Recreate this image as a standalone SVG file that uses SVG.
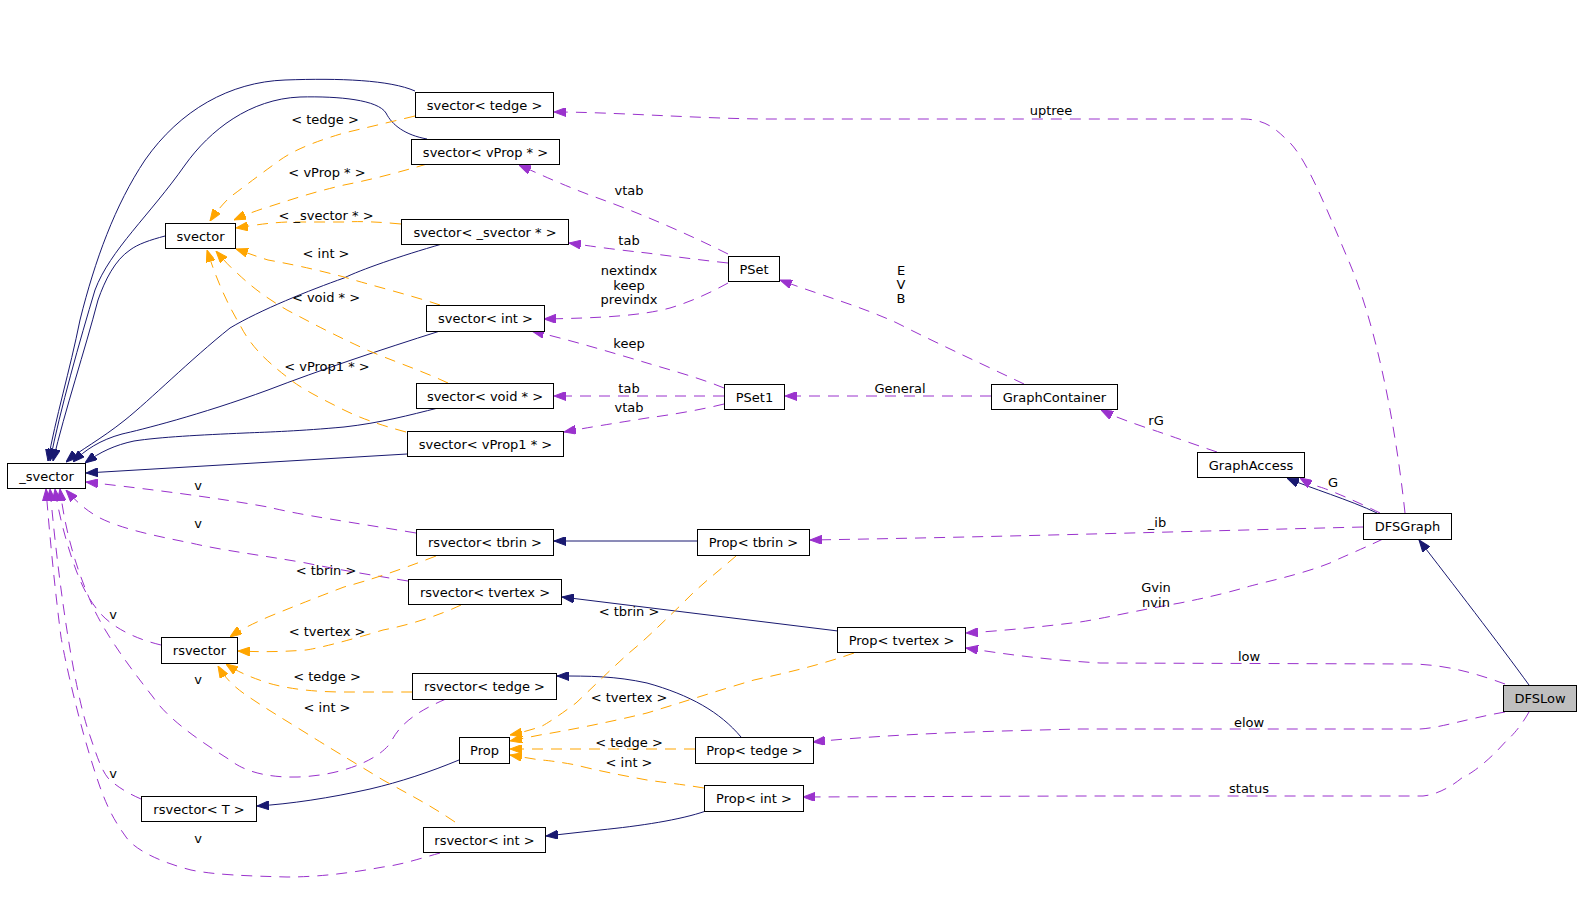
<svg xmlns="http://www.w3.org/2000/svg" width="1581" height="905" viewBox="0 0 1581 905">
<style>
.n rect{fill:#fff;stroke:#000;stroke-width:1}
.n text,.l text{font-family:"DejaVu Sans",sans-serif;font-size:13px;text-anchor:middle;fill:#000}
.e path{fill:none;stroke-width:1}
.inh{stroke:#191970;marker-end:url(#an)}
.use{stroke:#9a32cd;stroke-dasharray:11,8;marker-end:url(#ap)}
.tpl{stroke:#ffa500;stroke-dasharray:11,8;marker-end:url(#ao)}
</style>
<defs>
<marker id="an" markerUnits="userSpaceOnUse" markerWidth="12" markerHeight="9" viewBox="0 0 12 9" refX="12" refY="4.5" orient="auto"><path d="M0,0 L12,4.5 L0,9 z" fill="#191970" stroke="#191970"/></marker>
<marker id="ap" markerUnits="userSpaceOnUse" markerWidth="12" markerHeight="9" viewBox="0 0 12 9" refX="12" refY="4.5" orient="auto"><path d="M0,0 L12,4.5 L0,9 z" fill="#9a32cd" stroke="#9a32cd"/></marker>
<marker id="ao" markerUnits="userSpaceOnUse" markerWidth="12" markerHeight="9" viewBox="0 0 12 9" refX="12" refY="4.5" orient="auto"><path d="M0,0 L12,4.5 L0,9 z" fill="#ffa500" stroke="#ffa500"/></marker>
</defs>
<rect width="1581" height="905" fill="#fff"/>
<g id="edges" class="e">
<!-- inheritance -->
<path class="inh" d="M415,91 C390,80 340,78 285,80 C230,82 180,110 145,160 C115,205 95,260 80,320 C70,370 55,420 48,461"/>
<path class="inh" d="M427,139 C405,135 392,125 386,113 C378,100 340,96 300,97 C250,99 210,130 185,165 C150,215 110,250 95,290 C80,340 60,410 50,461"/>
<path class="inh" d="M165,236 C150,240 138,244 130,250 C115,260 105,280 98,300 C85,350 65,410 53,461"/>
<path class="inh" d="M442,244 C400,256 360,270 344,278 C310,290 260,310 230,328 C190,360 150,400 125,420 C100,440 80,450 66,462"/>
<path class="inh" d="M440,331 C380,350 320,370 268,390 C200,415 140,430 122,434 C100,440 85,450 73,462"/>
<path class="inh" d="M438,408 C410,415 380,423 344,427 C300,431 270,432 245,433 C200,435 160,437 134,441 C115,445 100,452 85,463"/>
<path class="inh" d="M407,454 L86,473"/>
<path class="inh" d="M697,541 L554,541"/>
<path class="inh" d="M838,631 L562,597"/>
<path class="inh" d="M741,737 C720,712 690,695 647,683 C615,676 590,676 557,676"/>
<path class="inh" d="M706,811 C680,820 640,826 600,830 L546,836"/>
<path class="inh" d="M459,760 C430,772 400,782 370,789 C330,798 290,804 257,806"/>
<path class="inh" d="M1377,513 C1350,500 1310,488 1287,478"/>
<path class="inh" d="M1529,685 C1500,645 1450,580 1419,540"/>
<!-- usage -->
<path class="use" d="M1405,513 C1395,420 1375,320 1347,257 C1325,205 1305,155 1287,140 C1275,128 1265,120 1245,119 L760,119 C690,118 610,112 554,112"/>
<path class="use" d="M728,254 C690,235 640,213 595,197 C560,184 535,172 519,165"/>
<path class="use" d="M728,263 C700,260 670,256 647,253 C610,249 590,246 569,243"/>
<path class="use" d="M728,283 C710,293 690,302 670,308 C640,316 600,318 544,319"/>
<path class="use" d="M724,388 C700,378 670,370 647,363 C610,352 570,340 532,331"/>
<path class="use" d="M724,396 L554,396"/>
<path class="use" d="M724,404 C700,410 670,415 647,418 C610,424 585,428 564,432"/>
<path class="use" d="M1024,384 C980,363 930,340 897,323 C860,306 820,295 780,280"/>
<path class="use" d="M991,396 L785,396"/>
<path class="use" d="M1217,452 C1190,443 1160,432 1147,428 C1130,422 1115,417 1101,410"/>
<path class="use" d="M1380,513 C1360,503 1330,490 1320,487 C1310,484 1305,481 1300,478"/>
<path class="use" d="M1363,527 C1200,531 1000,537 810,540"/>
<path class="use" d="M1383,539 C1360,550 1340,558 1330,563 C1300,575 1260,583 1247,587 C1220,595 1190,601 1180,603 C1140,610 1100,619 1080,622 C1040,627 1000,631 966,633"/>
<path class="use" d="M1505,684 C1480,675 1450,665 1413,664 L1100,663 C1050,660 1010,655 966,648"/>
<path class="use" d="M1505,712 C1470,718 1440,728 1420,729 L1080,729 C1000,731 900,733 813,742"/>
<path class="use" d="M1529,712 C1520,728 1510,738 1507,740 C1490,760 1470,775 1463,777 C1450,788 1435,795 1423,796 L1080,796 L803,797"/>
<path class="use" d="M416,533 C350,522 300,515 268,507 C200,495 130,487 86,482"/>
<path class="use" d="M408,581 C370,575 330,568 306,563 C260,555 220,550 191,543 C150,535 120,528 100,518 C85,510 75,500 66,490"/>
<path class="use" d="M161,645 C140,640 115,630 100,613 C85,595 80,580 76,570 C65,540 58,510 55,489"/>
<path class="use" d="M446,699 C415,712 400,725 392,740 C385,755 350,775 298,777 C260,778 240,768 230,760 C190,735 165,715 153,697 C120,655 100,625 90,600 C75,565 65,530 60,489"/>
<path class="use" d="M141,799 C125,792 115,785 108,778 C100,768 95,750 88,730 C75,690 60,600 50,489"/>
<path class="use" d="M440,853 C415,860 400,865 383,867 C340,875 310,877 287,877 C250,876 215,875 191,870 C160,862 135,850 126,837 C110,815 105,800 100,787 C80,730 65,660 61,637 C55,590 50,540 46,489"/>
<!-- template -->
<path class="tpl" d="M415,116 C390,122 365,128 344,133 C310,143 290,152 276,163 C255,178 240,190 230,197 C222,205 216,212 210,221"/>
<path class="tpl" d="M427,164 C400,172 370,180 344,185 C310,193 290,200 268,207 C255,211 245,215 234,220"/>
<path class="tpl" d="M401,224 C380,222 360,221 344,222 L287,222 C265,223 250,226 236,228"/>
<path class="tpl" d="M440,305 C410,295 370,285 344,277 C310,268 290,264 268,260 C255,256 245,252 236,249"/>
<path class="tpl" d="M448,383 C420,370 390,360 367,350 C330,333 310,322 287,310 C270,300 255,290 237,273 C228,265 222,258 216,251"/>
<path class="tpl" d="M406,432 C380,425 360,418 344,410 C320,398 300,388 287,377 C265,360 250,345 240,325 C225,300 215,275 207,250"/>
<path class="tpl" d="M436,556 C400,570 370,580 344,587 C310,600 290,608 268,617 C250,625 240,630 230,637"/>
<path class="tpl" d="M461,605 C440,615 410,625 383,630 C350,640 320,648 306,650 C280,652 260,652 238,651"/>
<path class="tpl" d="M412,692 C390,692 365,692 344,692 C310,692 285,688 268,683 C250,677 238,672 226,664"/>
<path class="tpl" d="M455,822 C430,805 410,795 383,780 C350,760 325,745 306,733 C285,720 265,708 249,697 C235,688 225,678 218,666"/>
<path class="tpl" d="M736,556 C720,570 700,585 683,603 C660,625 645,640 629,653 C610,670 590,690 576,703 C560,715 545,725 540,727 C530,730 520,733 510,735"/>
<path class="tpl" d="M854,653 C820,665 790,672 754,680 C720,690 680,703 647,713 C610,722 570,730 540,735 L510,741"/>
<path class="tpl" d="M695,749 L510,749"/>
<path class="tpl" d="M704,788 C680,784 660,782 647,780 C620,775 595,770 576,765 C560,762 545,760 540,760 L510,755"/>
</g>
<g id="labels" class="l">
<text x="325" y="124">&lt; tedge &gt;</text>
<text x="327" y="177">&lt; vProp * &gt;</text>
<text x="326" y="220">&lt; _svector * &gt;</text>
<text x="326" y="258">&lt; int &gt;</text>
<text x="326" y="302">&lt; void * &gt;</text>
<text x="327" y="371">&lt; vProp1 * &gt;</text>
<text x="629" y="195">vtab</text>
<text x="629" y="245">tab</text>
<text x="629" y="275">nextindx</text>
<text x="629" y="290">keep</text>
<text x="629" y="304">previndx</text>
<text x="629" y="348">keep</text>
<text x="629" y="393">tab</text>
<text x="629" y="412">vtab</text>
<text x="901" y="275">E</text>
<text x="901" y="289">V</text>
<text x="901" y="303">B</text>
<text x="900" y="393">General</text>
<text x="1051" y="115">uptree</text>
<text x="1156" y="425">rG</text>
<text x="1333" y="487">G</text>
<text x="1157" y="527">_ib</text>
<text x="1156" y="592">Gvin</text>
<text x="1156" y="607">nvin</text>
<text x="1249" y="661">low</text>
<text x="1249" y="727">elow</text>
<text x="1249" y="793">status</text>
<text x="198" y="490">v</text>
<text x="198" y="528">v</text>
<text x="113" y="619">v</text>
<text x="198" y="684">v</text>
<text x="113" y="778">v</text>
<text x="198" y="843">v</text>
<text x="326" y="575">&lt; tbrin &gt;</text>
<text x="327" y="636">&lt; tvertex &gt;</text>
<text x="327" y="681">&lt; tedge &gt;</text>
<text x="327" y="712">&lt; int &gt;</text>
<text x="629" y="616">&lt; tbrin &gt;</text>
<text x="629" y="702">&lt; tvertex &gt;</text>
<text x="629" y="747">&lt; tedge &gt;</text>
<text x="629" y="767">&lt; int &gt;</text>
</g>
<g id="n_svector_tedge" class="n"><rect x="415.5" y="92.5" width="138" height="25"/><text x="484.5" y="109.5">svector&lt; tedge &gt;</text></g>
<g id="n_svector_vprop" class="n"><rect x="411.5" y="139.5" width="148" height="25"/><text x="485.5" y="156.5">svector&lt; vProp * &gt;</text></g>
<g id="n_svector" class="n"><rect x="165.5" y="223.5" width="70" height="25"/><text x="200.5" y="240.5">svector</text></g>
<g id="n_svector_svector" class="n"><rect x="401.5" y="219.5" width="167" height="25"/><text x="485" y="236.5">svector&lt; _svector * &gt;</text></g>
<g id="n_pset" class="n"><rect x="728.5" y="256.5" width="51" height="25"/><text x="754" y="273.5">PSet</text></g>
<g id="n_svector_int" class="n"><rect x="426.5" y="305.5" width="118" height="26"/><text x="485.5" y="323">svector&lt; int &gt;</text></g>
<g id="n_svector_void" class="n"><rect x="416.5" y="383.5" width="137" height="25"/><text x="485" y="400.5">svector&lt; void * &gt;</text></g>
<g id="n_pset1" class="n"><rect x="724.5" y="384.5" width="60" height="25"/><text x="754.5" y="401.5">PSet1</text></g>
<g id="n_graphcontainer" class="n"><rect x="991.5" y="384.5" width="126" height="25"/><text x="1054.5" y="401.5">GraphContainer</text></g>
<g id="n_svector_vprop1" class="n"><rect x="407.5" y="431.5" width="156" height="25"/><text x="485.5" y="448.5">svector&lt; vProp1 * &gt;</text></g>
<g id="n__svector" class="n"><rect x="7.5" y="463.5" width="78" height="25"/><text x="46.5" y="480.5">_svector</text></g>
<g id="n_graphaccess" class="n"><rect x="1197.5" y="452.5" width="107" height="25"/><text x="1251" y="469.5">GraphAccess</text></g>
<g id="n_dfsgraph" class="n"><rect x="1363.5" y="513.5" width="88" height="26"/><text x="1407.5" y="531">DFSGraph</text></g>
<g id="n_rsvector_tbrin" class="n"><rect x="416.5" y="529.5" width="137" height="26"/><text x="485" y="547">rsvector&lt; tbrin &gt;</text></g>
<g id="n_prop_tbrin" class="n"><rect x="697.5" y="529.5" width="112" height="26"/><text x="753.5" y="547">Prop&lt; tbrin &gt;</text></g>
<g id="n_rsvector_tvertex" class="n"><rect x="408.5" y="579.5" width="153" height="25"/><text x="485" y="596.5">rsvector&lt; tvertex &gt;</text></g>
<g id="n_prop_tvertex" class="n"><rect x="837.5" y="627.5" width="128" height="25"/><text x="901.5" y="644.5">Prop&lt; tvertex &gt;</text></g>
<g id="n_rsvector" class="n"><rect x="161.5" y="637.5" width="76" height="26"/><text x="199.5" y="655">rsvector</text></g>
<g id="n_rsvector_tedge" class="n"><rect x="412.5" y="673.5" width="144" height="26"/><text x="484.5" y="691">rsvector&lt; tedge &gt;</text></g>
<g id="n_dfslow" class="n"><rect x="1503.5" y="685.5" width="73" height="26" style="fill:#bfbfbf"/><text x="1540" y="703">DFSLow</text></g>
<g id="n_prop" class="n"><rect x="459.5" y="737.5" width="50" height="26"/><text x="484.5" y="755">Prop</text></g>
<g id="n_prop_tedge" class="n"><rect x="695.5" y="737.5" width="118" height="26"/><text x="754.5" y="755">Prop&lt; tedge &gt;</text></g>
<g id="n_prop_int" class="n"><rect x="704.5" y="785.5" width="99" height="26"/><text x="754" y="803">Prop&lt; int &gt;</text></g>
<g id="n_rsvector_t" class="n"><rect x="141.5" y="796.5" width="115" height="25"/><text x="199" y="813.5">rsvector&lt; T &gt;</text></g>
<g id="n_rsvector_int" class="n"><rect x="423.5" y="827.5" width="122" height="25"/><text x="484.5" y="844.5">rsvector&lt; int &gt;</text></g>
</svg>
